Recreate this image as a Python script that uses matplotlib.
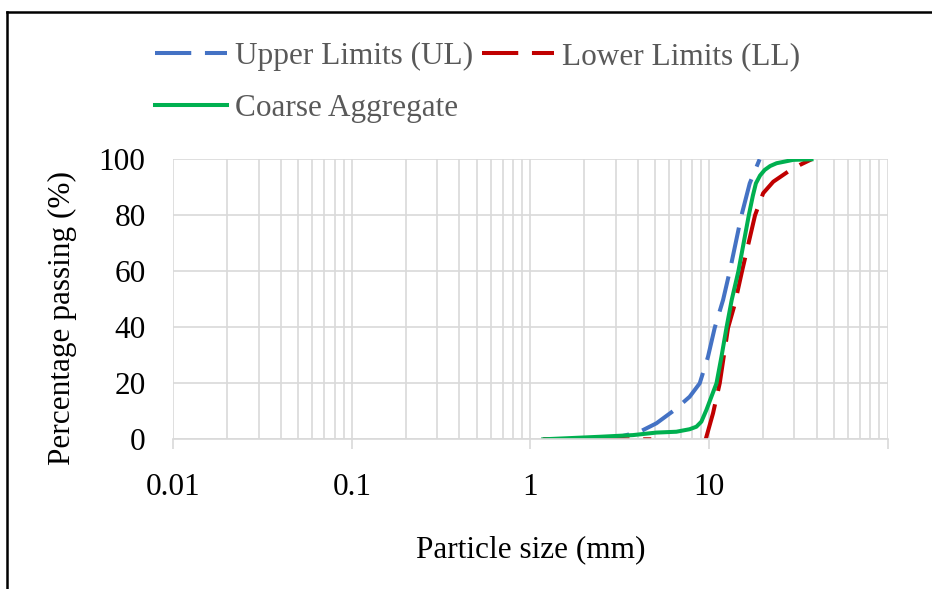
#!/usr/bin/env python3
"""Grading curve of coarse aggregate against upper/lower limits (log particle size)."""

import numpy as np
import matplotlib

matplotlib.use("Agg")
import matplotlib.pyplot as plt
from matplotlib.lines import Line2D
from matplotlib.ticker import FixedLocator, LogLocator, NullFormatter

# values (particle size in mm, percentage passing)
ul_size = [1.18, 2.36, 3.16, 4.09, 5.07, 6.42, 7.79, 8.87, 9.87, 10.76, 11.99, 13.06, 15.2, 16.9, 19.2]
ul_pass = [0, 0.2, 0.9, 2.7, 5.7, 10.5, 15.2, 20, 29.5, 39.8, 49.8, 60, 80, 91.4, 100]

# lower limit dips below the axis between 4.75 and 9.5 mm, so that stretch is not drawn
ll_size = [1.18, 2.36, 4.75, np.nan, 9.58, 10.53, 11.48, 12.78, 13.9, 15.3, 18.1, 20.1, 22.9, 27.7, 32.3, 37.5]
ll_pass = [0, 0, 0, np.nan, 0, 9.3, 20, 39.8, 48, 60, 80, 87.9, 92, 95.6, 98, 100]

ca_size = [1.18, 2.44, 3.75, 5.07, 6.56, 7.79, 8.5, 9.06, 9.67, 10.31, 11.01, 11.74, 12.52, 13.4,
           14.6, 16.7, 17.6, 18.3, 19.3, 20.5, 22.0, 23.9, 29.6, 37.5]
ca_pass = [0, 0.9, 1.5, 2.4, 2.7, 3.6, 4.5, 6.3, 10.5, 15.2, 20, 29.5, 39.8, 49.8,
           60, 80, 87, 91.4, 94.2, 96.2, 97.6, 98.6, 99.8, 100]

x_ticks = [0.01, 0.1, 1, 10, 100]
x_tick_labels = ["0.01", "0.1", "1", "10", ""]
y_ticks = [0, 20, 40, 60, 80, 100]

FONT = "Liberation Serif"
FS = 22.5
GRID = "#d9d9d9"

plt.rcParams["font.family"] = [FONT, "DejaVu Serif"]

fig = plt.figure(figsize=(9.32, 5.89), dpi=100)
W, H = 932, 589
ax = fig.add_axes([173.3 / W, 1 - 439.3 / H, 714.3 / W, 280 / H])

dash = (0, (9, 3.4))
ul_line, = ax.plot(ul_size, ul_pass, color="#4472C4", lw=2.9, linestyle=dash,
                   label="Upper Limits (UL)")
ll_line, = ax.plot(ll_size, ll_pass, color="#C00000", lw=2.9, linestyle=dash,
                   label="Lower Limits (LL)")
ca_line, = ax.plot(ca_size, ca_pass, color="#00B050", lw=2.9, label="Coarse Aggregate",
                   solid_joinstyle="round")

ax.set_xscale("log")
ax.set_xlim(0.01, 100)
ax.set_ylim(0, 100)
ax.xaxis.set_major_locator(FixedLocator(x_ticks))
ax.set_xticklabels(x_tick_labels)
ax.xaxis.set_minor_locator(LogLocator(base=10, subs=np.arange(2, 10), numticks=20))
ax.xaxis.set_minor_formatter(NullFormatter())
ax.set_yticks(y_ticks)

ax.grid(True, which="both", axis="x", color=GRID, lw=1.2)
ax.grid(True, which="major", axis="y", color=GRID, lw=1.2)
ax.set_axisbelow(True)
for side in ("top", "right", "left"):
    ax.spines[side].set_visible(False)
ax.spines["bottom"].set_color(GRID)
ax.spines["bottom"].set_linewidth(1.2)

ax.tick_params(axis="x", which="major", length=7, width=1.2, color=GRID, pad=17,
               labelsize=FS, labelcolor="black")
ax.tick_params(axis="x", which="minor", length=0)
ax.tick_params(axis="y", length=0, pad=20, labelsize=FS, labelcolor="black")

ax.set_xlabel("Particle size (mm)", fontsize=FS, color="black")
ax.xaxis.set_label_coords(0.5, -0.343)
fig.text(62 / W, 1 - 318 / H, "Percentage passing (%)", rotation=90, fontsize=FS,
         ha="center", va="center", color="black")

# column-major fill: UL and LL on the first row, aggregate on the second
fig.legend([ul_line, ca_line, ll_line],
           ["Upper Limits (UL)", "Coarse Aggregate", "Lower Limits (LL)"],
           loc="upper left", bbox_to_anchor=(155 / W, 1 - 42 / H), ncol=2, frameon=False,
           fontsize=FS, labelcolor="#595959", handlelength=2.3, handletextpad=0.25,
           columnspacing=0.3, labelspacing=0.72, borderpad=0, borderaxespad=0)

# outer chart frame (only top and left edges are inside the image)
fig.add_artist(Line2D([7 / W, 1.0], [1 - 12 / H, 1 - 12 / H], color="black", lw=1.8,
                      transform=fig.transFigure))
fig.add_artist(Line2D([7 / W, 7 / W], [0.0, 1 - 12 / H], color="black", lw=1.8,
                      transform=fig.transFigure))

fig.savefig("out.png", dpi=100)
